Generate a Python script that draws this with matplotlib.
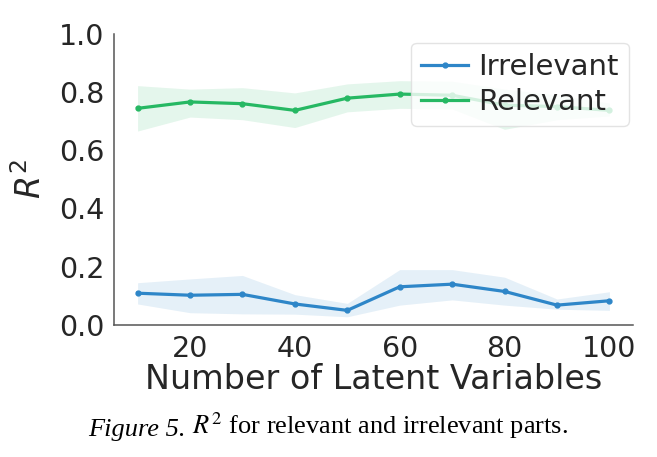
import numpy as np
import matplotlib.pyplot as plt

n_latent = [10, 20, 30, 40, 50, 60, 70, 80, 90, 100]

irr_mean = [0.109, 0.102, 0.105, 0.072, 0.050, 0.131, 0.140, 0.115, 0.068, 0.083]
irr_low = [0.072, 0.042, 0.038, 0.037, 0.028, 0.068, 0.086, 0.068, 0.054, 0.050]
irr_high = [0.145, 0.158, 0.170, 0.104, 0.074, 0.190, 0.190, 0.164, 0.089, 0.114]

rel_mean = [0.744, 0.766, 0.760, 0.737, 0.779, 0.793, 0.789, 0.755, 0.750, 0.737]
rel_low = [0.666, 0.714, 0.705, 0.678, 0.732, 0.744, 0.742, 0.672, 0.705, 0.718]
rel_high = [0.822, 0.810, 0.815, 0.797, 0.828, 0.839, 0.837, 0.810, 0.790, 0.762]

blue = "#2e86c8"
green = "#26b863"

fig = plt.figure(figsize=(6.57, 4.57), dpi=100)
ax = fig.add_axes([0.1735, 0.289, 0.79, 0.637])

ax.fill_between(n_latent, irr_low, irr_high, color=blue, alpha=0.12, lw=0)
ax.plot(n_latent, irr_mean, color=blue, lw=2.3, marker="o", ms=3.5, label="Irrelevant")
ax.fill_between(n_latent, rel_low, rel_high, color=green, alpha=0.12, lw=0)
ax.plot(n_latent, rel_mean, color=green, lw=2.3, marker="o", ms=3.5, label="Relevant")

ax.set_xlim(5.5, 104.5)
ax.set_ylim(0, 1.0)
ax.set_xticks([20, 40, 60, 80, 100])
ax.set_yticks([0.0, 0.2, 0.4, 0.6, 0.8, 1.0])
ax.tick_params(length=0, labelsize=20.5, colors="#262626", pad=7)
for s in ["top", "right"]:
    ax.spines[s].set_visible(False)
for s in ["left", "bottom"]:
    ax.spines[s].set_color("#555555")
    ax.spines[s].set_linewidth(1.1)

ax.set_xlabel("Number of Latent Variables", fontsize=24, color="#262626", labelpad=0)
ax.set_ylabel("$R^2$", fontsize=24, color="#262626", labelpad=8)

leg = ax.legend(loc="upper right", fontsize=21, frameon=True, borderpad=0.35,
                handlelength=1.6, handletextpad=0.35, labelspacing=0.25,
                bbox_to_anchor=(1.02, 1.02))
leg.get_frame().set_edgecolor("#dddddd")
for t in leg.get_texts():
    t.set_color("#262626")

cap1 = fig.text(0.134, 0.035, "Figure 5.", ha="left", va="bottom", fontsize=19,
                family="Liberation Serif", style="italic", color="black")
ax.annotate(r" $R^2$ for relevant and irrelevant parts.", xy=(1, 0), xycoords=cap1,
            ha="left", va="bottom", fontsize=19, family="Liberation Serif",
            math_fontfamily="stix", color="black", annotation_clip=False)

fig.savefig("out.png", dpi=100, facecolor="white")
